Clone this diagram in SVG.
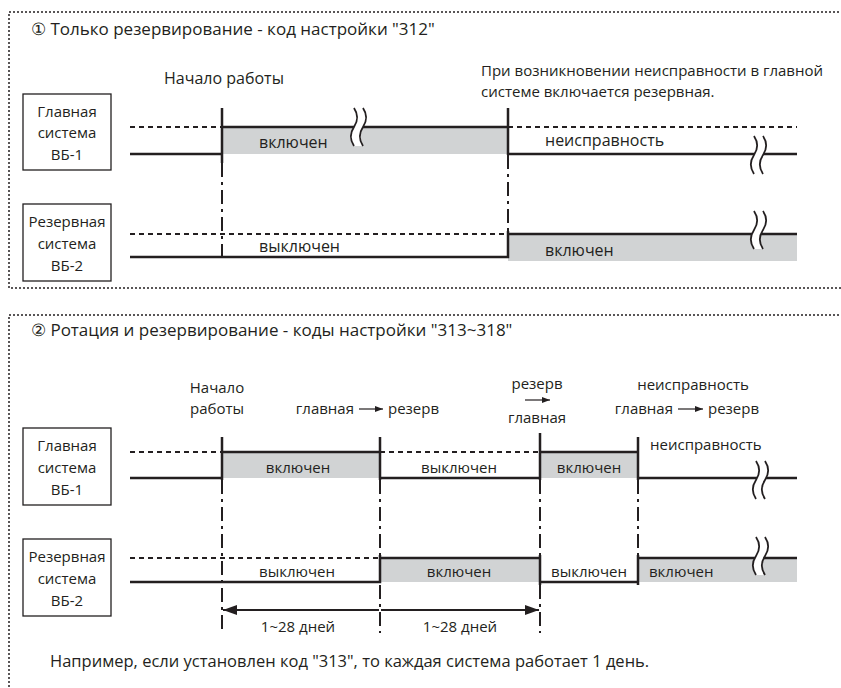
<svg xmlns="http://www.w3.org/2000/svg" width="841" height="688" viewBox="0 0 841 688">
<style>
text{font-family:"Open Sans","Noto Sans",sans-serif;fill:#231f20;font-size:15px}
.ttl{font-size:17px}
.p1{font-size:16px}
.fn{font-size:16.5px}
.ctr{text-anchor:middle}
.end{text-anchor:end}
.frame{fill:none;stroke:#231f20;stroke-width:1.5;stroke-dasharray:2 2}
.box{fill:#fff;stroke:#231f20;stroke-width:1.3}
.ln{fill:none;stroke:#231f20;stroke-width:2.5}
.dot{fill:none;stroke:#231f20;stroke-width:2;stroke-dasharray:5 4}
.dd{fill:none;stroke:#231f20;stroke-width:2;stroke-dasharray:14 5 3 5}
.on{fill:#d1d3d4;stroke:none}
.thin{fill:none;stroke:#231f20;stroke-width:1.2}
.dim{fill:none;stroke:#231f20;stroke-width:2;marker-start:url(#ah);marker-end:url(#ah)}
</style>
<defs>
<marker id="ah" viewBox="0 0 14 10" refX="14" refY="5" markerWidth="14" markerHeight="10" markerUnits="userSpaceOnUse" orient="auto-start-reverse">
<path d="M0,0 L14,5 L0,10 Z" fill="#231f20"/>
</marker>
<marker id="sa" viewBox="0 0 8 6" refX="8" refY="3" markerWidth="8" markerHeight="6" markerUnits="userSpaceOnUse" orient="auto">
<path d="M0,0 L8,3 L0,6 Z" fill="#231f20"/>
</marker>
<g id="brk">
<path d="M-5,0 c4,6 4,13 0,19 c-4,6 -4,13 0,19 L4,38 c-4,-6 -4,-13 0,-19 c4,-6 4,-13 0,-19 Z" fill="#fff" stroke="none"/>
<path d="M-5,0 c4,6 4,13 0,19 c-4,6 -4,13 0,19 M4,0 c4,6 4,13 0,19 c-4,6 -4,13 0,19" fill="none" stroke="#231f20" stroke-width="1.8"/>
</g>
</defs>
<rect width="841" height="688" fill="#fff"/>

<!-- Panel 1 -->
<g id="panel1">
<path class="frame" d="M843,12 H9 V288 H843"/>
<text class="ttl" x="31" y="35">① Только резервирование - код настройки "312"</text>
<text x="224" y="84" class="ctr p1">Начало работы</text>
<text x="481" y="76">При возникновении неисправности в главной</text>
<text x="481" y="97">системе включается резервная.</text>
</g>
<g id="p1-main">
<rect class="box" x="23" y="94" width="88" height="76"/>
<text class="ctr" x="67" y="117">Главная</text>
<text class="ctr" x="67" y="138">система</text>
<text class="ctr" x="67" y="160">ВБ-1</text>
</g>
<g id="p1-backup">
<rect class="box" x="23" y="204" width="88" height="77"/>
<text class="ctr" x="67" y="227">Резервная</text>
<text class="ctr" x="67" y="249">система</text>
<text class="ctr" x="67" y="271">ВБ-2</text>
</g>
<g id="p1-connectors">
<rect class="on" x="222" y="127" width="286" height="27"/>
<rect class="on" x="508" y="234" width="289" height="27"/>
<path class="dot" d="M130,127 H222 M508,127 H797 M130,234 H508"/>
<path class="ln" d="M130,154 H222 M222,108 V163 M222,127 H508 M508,108 V155 M508,154 H797"/>
<path class="ln" d="M130,257 H508 V231 M508,234 H797"/>
<path class="dd" d="M222,163 V257 M508,155 V231"/>
<use href="#brk" x="359" y="108"/>
<use href="#brk" x="759" y="136"/>
<use href="#brk" x="759" y="211"/>
<text class="p1" x="259" y="148">включен</text>
<text class="p1" x="545" y="146">неисправность</text>
<text class="p1" x="259" y="252">выключен</text>
<text class="p1" x="545" y="256">включен</text>
</g>

<!-- Panel 2 -->
<g id="panel2">
<path class="frame" d="M843,315 H9 V690"/>
<text class="ttl" x="31" y="336">② Ротация и резервирование - коды настройки "313~318"</text>
<text class="ctr" x="217" y="393">Начало</text>
<text class="ctr" x="217" y="414">работы</text>
<text class="end" x="354" y="414">главная</text>
<path class="thin" d="M359,409 H383" marker-end="url(#sa)"/>
<text x="388" y="414">резерв</text>
<text class="ctr" x="537" y="389">резерв</text>
<path class="thin" d="M525,400 H550" marker-end="url(#sa)"/>
<text class="ctr" x="537" y="423">главная</text>
<text class="ctr" x="693" y="390">неисправность</text>
<text class="end" x="673" y="414">главная</text>
<path class="thin" d="M678,409 H703" marker-end="url(#sa)"/>
<text x="708" y="414">резерв</text>
</g>
<g id="p2-main">
<rect class="box" x="23" y="428" width="88" height="77"/>
<text class="ctr" x="67" y="451">Главная</text>
<text class="ctr" x="67" y="473">система</text>
<text class="ctr" x="67" y="495">ВБ-1</text>
</g>
<g id="p2-backup">
<rect class="box" x="23" y="539" width="88" height="77"/>
<text class="ctr" x="67" y="562">Резервная</text>
<text class="ctr" x="67" y="584">система</text>
<text class="ctr" x="67" y="606">ВБ-2</text>
</g>
<g id="p2-connectors">
<rect class="on" x="222" y="452" width="158" height="26"/>
<rect class="on" x="540" y="452" width="98" height="26"/>
<rect class="on" x="380" y="558" width="160" height="24"/>
<rect class="on" x="638" y="558" width="159" height="24"/>
<path class="dot" d="M130,452 H222 M380,452 H540 M130,558 H380"/>
<path class="ln" d="M130,478 H222 M222,437 V480 M222,452 H380 M380,437 V480 M380,478 H540 M540,433 V480 M540,452 H638 M638,437 V480 M638,478 H797"/>
<path class="ln" d="M130,582 H380 V555 M380,558 H540 M540,555 V585 M540,582 H638 M638,585 V555 M638,558 H797"/>
<path class="dd" d="M222,480 V633 M380,480 V555 M380,585 V633 M540,480 V555 M540,585 V633 M638,480 V555"/>
<use href="#brk" x="761" y="461"/>
<use href="#brk" x="761" y="537"/>
<path class="dim" d="M223,610 H379 M381,610 H539"/>
<text class="ctr" x="298" y="473">включен</text>
<text class="ctr" x="459" y="473">выключен</text>
<text class="ctr" x="589" y="473">включен</text>
<text x="650" y="450">неисправность</text>
<text class="ctr" x="297" y="577">выключен</text>
<text class="ctr" x="459" y="577">включен</text>
<text class="ctr" x="589" y="577">выключен</text>
<text x="649" y="577">включен</text>
<text class="ctr" x="298" y="632">1~28 дней</text>
<text class="ctr" x="460" y="632">1~28 дней</text>
<text class="fn" x="50" y="667">Например, если установлен код "313", то каждая система работает 1 день.</text>
</g>
</svg>
